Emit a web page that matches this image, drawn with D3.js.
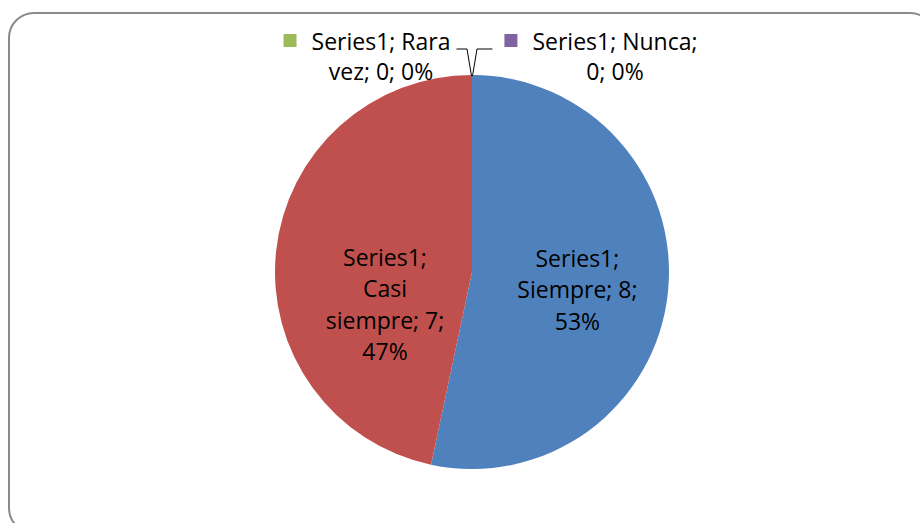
<!DOCTYPE html>
<html>
<head>
<meta charset="utf-8">
<script src="https://cdn.jsdelivr.net/npm/d3@7"></script>
<style>
	html, body { margin: 0; padding: 0; background: #fff; }
	svg { display: block; }
	.label { font-family: "Open Sans", sans-serif; font-size: 23px; fill: #000; }
	.leader { fill: none; stroke: #000; stroke-width: 1; }
</style>
</head>
<body>
<div id="chart"></div>
<script>
// Chart data
const seriesName = "Series1";
const categories = ["Siempre", "Casi siempre", "Rara vez", "Nunca"];
const values = [8, 7, 0, 0];
const colors = ["#4F81BD", "#C0504D", "#9BBB59", "#8064A2"];

// How many words go on each line of every data label
const lineWords = [[1, 2, 1], [1, 1, 2, 1], [2, 3], [2, 2]];

const width = 920;
const height = 523;
const cx = 472;
const cy = 272;
const radius = 197;
const lineHeight = 31.5;

const total = d3.sum(values);
const pct = d3.format(".0%");

// Build the label text and break it into lines
function labelLines(i) {
	const words = `${seriesName}; ${categories[i]}; ${values[i]}; ${pct(values[i] / total)}`.split(" ");
	const lines = [];
	let k = 0;
	lineWords[i].forEach((n) => {
		lines.push(words.slice(k, k + n).join(" "));
		k += n;
	});
	return lines;
}

const svg = d3
	.select("#chart")
	.append("svg")
	.attr("width", width)
	.attr("height", height);

// Chart area frame (runs off the right and bottom edge)
svg.append("rect")
	.attr("x", 9)
	.attr("y", 13)
	.attr("width", 926)
	.attr("height", 520)
	.attr("rx", 25)
	.attr("fill", "#fff")
	.attr("stroke", "#8a8a8a")
	.attr("stroke-width", 2);

const pie = d3.pie().sort(null).value((d) => d);
const arcs = pie(values);

const arc = d3.arc().innerRadius(0).outerRadius(radius);

const g = svg.append("g").attr("transform", `translate(${cx},${cy})`);

g.selectAll("path")
	.data(arcs)
	.join("path")
	.attr("d", arc)
	.attr("fill", (d, i) => colors[i]);

// Inside labels: centroid at a radius per slice, nudged down like Excel does
const insideRadius = [106, 87.5];
const insideDy = [7, 42];

[0, 1].forEach((i) => {
	const a = arcs[i];
	const r = insideRadius[i];
	const [x, y] = d3.arc().innerRadius(r).outerRadius(r).centroid(a);
	const lines = labelLines(i);
	const first = y + insideDy[i] - ((lines.length - 1) * lineHeight) / 2 + 8;
	const t = g.append("text").attr("class", "label").attr("text-anchor", "middle");
	lines.forEach((line, j) => {
		t.append("tspan")
			.attr("x", x)
			.attr("y", first + j * lineHeight)
			.text(line);
	});
});

// Outside labels for the empty slices, with legend key and leader line
const outsideCx = [-91, 143];
const outsideBaseline = -222;

[2, 3].forEach((i, n) => {
	const a = arcs[i];
	const anchor = d3.arc().innerRadius(radius).outerRadius(radius).centroid(a);
	const lx = outsideCx[n];
	const lines = labelLines(i);
	const t = g.append("text").attr("class", "label").attr("text-anchor", "middle");
	lines.forEach((line, j) => {
		t.append("tspan")
			.attr("x", lx)
			.attr("y", outsideBaseline + j * 30)
			.text(line);
	});
	const w = t.select("tspan").node().getComputedTextLength();
	const left = lx - w / 2;
	const right = lx + w / 2;

	g.append("rect")
		.attr("x", left - 28)
		.attr("y", outsideBaseline - 16)
		.attr("width", 13)
		.attr("height", 13)
		.attr("fill", colors[i]);

	const ly = outsideBaseline - 1;
	const pts =
		n === 0
			? [[right + 6, ly], [anchor[0] - 5, ly], [anchor[0] - 0.5, anchor[1] + 1]]
			: [[left - 40, ly], [anchor[0] + 5, ly], [anchor[0] + 0.5, anchor[1] + 1]];
	g.append("path").attr("class", "leader").attr("d", d3.line()(pts));
});
</script>
</body>
</html>
